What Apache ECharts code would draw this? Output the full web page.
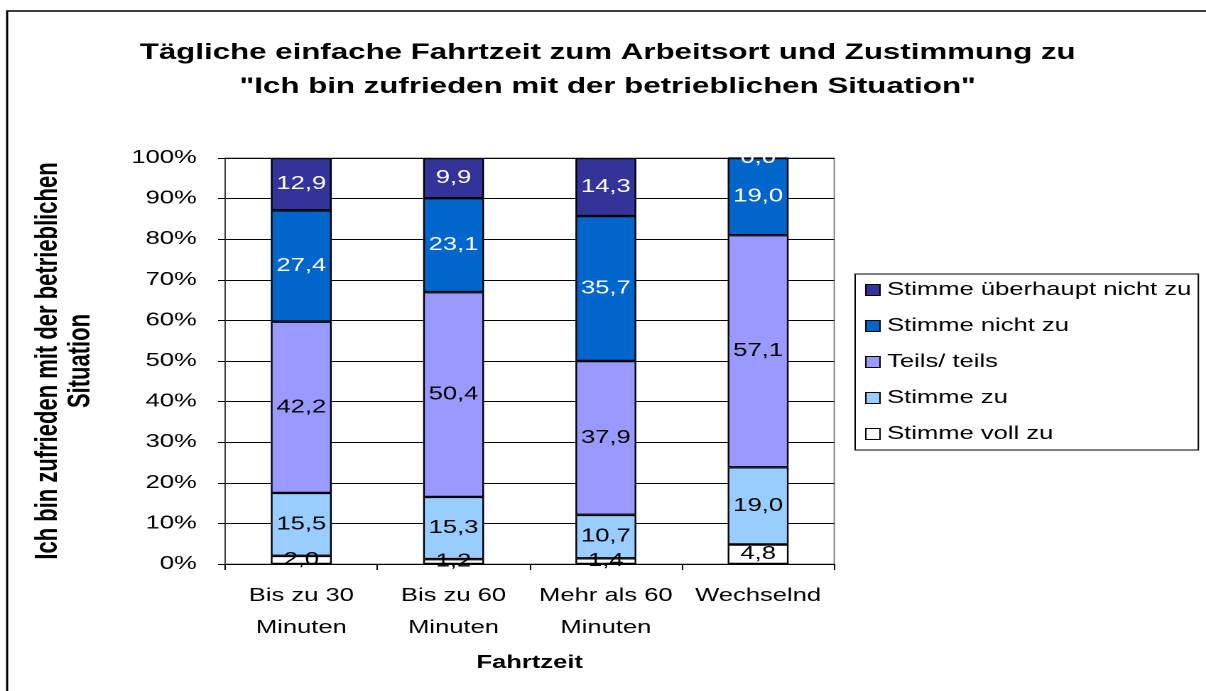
<!DOCTYPE html>
<html>
<head>
<meta charset="utf-8">
<script src="https://cdn.jsdelivr.net/npm/echarts@6/dist/echarts.min.js"></script>
<style>
  html, body { margin: 0; padding: 0; background: #fff; overflow: hidden; }
  /* the reference is stretched sideways, so the chart is drawn narrow and widened */
  #chart { width: 849px; height: 691px; transform: scaleX(1.4205); transform-origin: 0 0; }
</style>
</head>
<body>
<div id="chart"></div>
<script>
// Kategorien (x-Achse)
var categories = ["Bis zu 30\nMinuten", "Bis zu 60\nMinuten", "Mehr als 60\nMinuten", "Wechselnd"];

// Anteile in Prozent je Antwort, von unten nach oben gestapelt
var vollZu = [2.0, 1.2, 1.4, 4.8];
var zu = [15.5, 15.3, 10.7, 19.0];
var teils = [42.2, 50.4, 37.9, 57.1];
var nichtZu = [27.4, 23.1, 35.7, 19.0];
var ueberhauptNicht = [12.9, 9.9, 14.3, 0.0];

var yTicks = [0, 10, 20, 30, 40, 50, 60, 70, 80, 90, 100];

var FONT = "'Liberation Sans', Arial, sans-serif";

var seriesDefs = [
  { name: "Stimme voll zu", values: vollZu, color: "#FFFFFF", text: "#000" },
  { name: "Stimme zu", values: zu, color: "#99CCFF", text: "#000" },
  { name: "Teils/ teils", values: teils, color: "#9999FF", text: "#000" },
  { name: "Stimme nicht zu", values: nichtZu, color: "#0066CC", text: "#fff" },
  { name: "Stimme überhaupt nicht zu", values: ueberhauptNicht, color: "#333399", text: "#fff" }
];

// Summe je Kategorie, damit jede Säule auf 100% kommt
var totals = categories.map(function (c, i) {
  var s = 0;
  seriesDefs.forEach(function (d) { s += d.values[i]; });
  return s;
});

var series = seriesDefs.map(function (d) {
  return {
    name: d.name,
    type: "bar",
    stack: "gesamt",
    barWidth: "40%",
    data: d.values.map(function (v, i) { return { value: v / totals[i] * 100, raw: v }; }),
    itemStyle: { color: d.color, borderColor: "#000", borderWidth: 1.2 },
    label: {
      show: true,
      position: "inside",
      color: d.text,
      fontFamily: FONT,
      fontSize: 18,
      formatter: function (p) { return p.data.raw.toFixed(1).replace(".", ","); }
    },
    emphasis: { disabled: true }
  };
});

var myChart = echarts.init(document.getElementById("chart"), null, { devicePixelRatio: 2 });
myChart.setOption({
  animation: false,
  backgroundColor: "#fff",
  title: {
    text: "Tägliche einfache Fahrtzeit zum Arbeitsort und Zustimmung zu\n\"Ich bin zufrieden mit der betrieblichen Situation\"",
    left: 422.8,
    top: 31,
    textAlign: "center",
    textStyle: { fontFamily: FONT, fontSize: 22, fontWeight: "bold", color: "#000", lineHeight: 34 }
  },
  graphic: [
    {
      type: "rect",
      shape: { x: 5, y: 11, width: 900, height: 700 },
      style: { fill: null, stroke: "#000", lineWidth: 1.5 },
      silent: true
    }
  ],
  legend: {
    orient: "vertical",
    left: 602,
    top: 274,
    padding: [7, 5, 7, 7],
    itemGap: 18,
    itemWidth: 10,
    itemHeight: 11,
    icon: "rect",
    borderColor: "#000",
    borderWidth: 1,
    data: ["Stimme überhaupt nicht zu", "Stimme nicht zu", "Teils/ teils", "Stimme zu", "Stimme voll zu"],
    itemStyle: { borderColor: "#000", borderWidth: 1 },
    textStyle: { fontFamily: FONT, fontSize: 18, color: "#000" }
  },
  grid: {
    left: 158.5,
    right: 261.7,
    top: 158,
    bottom: 127,
    show: true,
    borderColor: "#808080",
    borderWidth: 1
  },
  xAxis: {
    type: "category",
    data: categories,
    name: "Fahrtzeit",
    nameLocation: "middle",
    nameGap: 90,
    nameTextStyle: { fontFamily: FONT, fontSize: 18, fontWeight: "bold", color: "#000" },
    axisLine: { lineStyle: { color: "#000", width: 1 } },
    axisTick: { show: true, length: 6, lineStyle: { color: "#000" } },
    axisLabel: { fontFamily: FONT, fontSize: 18, color: "#000", lineHeight: 32, margin: 16, interval: 0 }
  },
  yAxis: {
    type: "value",
    min: yTicks[0],
    max: yTicks[yTicks.length - 1],
    interval: 10,
    name: "Ich bin zufrieden mit der betrieblichen\nSituation",
    nameLocation: "middle",
    nameGap: 90,
    nameTextStyle: { fontFamily: FONT, fontSize: 22, fontWeight: "bold", color: "#000", lineHeight: 23 },
    axisLine: { show: true, lineStyle: { color: "#404040", width: 1 } },
    axisTick: { show: true, length: 5, lineStyle: { color: "#000" } },
    axisLabel: { fontFamily: FONT, fontSize: 18, color: "#000", margin: 20, formatter: "{value}%" },
    splitLine: { show: true, lineStyle: { color: "#000", width: 1 } }
  },
  series: series
});

window.addEventListener("resize", function () {
  myChart.resize();
});
</script>
</body>
</html>
